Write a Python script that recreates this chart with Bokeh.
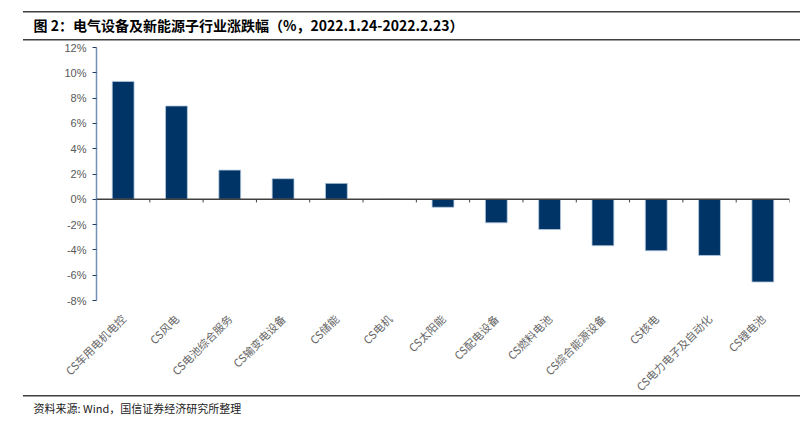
import math
from bokeh.plotting import figure
from bokeh.models import (FactorRange, Range1d, Span, FixedTicker, PrintfTickFormatter,
                          ColumnDataSource, Title)
from bokeh.embed import file_html
from bokeh.resources import INLINE

# ---- data ----
title_text = "图 2：电气设备及新能源子行业涨跌幅（%，2022.1.24-2022.2.23）"
source_text = "资料来源: Wind，国信证券经济研究所整理"
categories = ["CS车用电机电控", "CS风电", "CS电池综合服务", "CS输变电设备", "CS储能", "CS电机",
              "CS太阳能", "CS配电设备", "CS燃料电池", "CS综合能源设备", "CS核电",
              "CS电力电子及自动化", "CS锂电池"]
changes = [9.32, 7.38, 2.31, 1.63, 1.26, 0.0, -0.63, -1.86, -2.39, -3.67, -4.07, -4.44, -6.54]
y_ticks = [-8, -6, -4, -2, 0, 2, 4, 6, 8, 10, 12]

BAR = "#003366"
RULE = "#404040"
CJK = "Noto Sans CJK SC"

W, H = 800, 436
L, R, T, B = 96, 11, 46, 136

p = figure(
    width=W, height=H,
    x_range=FactorRange(*categories, range_padding=0, factor_padding=0),
    y_range=Range1d(-8, 12),
    output_backend="svg", toolbar_location=None,
    min_border_left=L, min_border_right=R, min_border_top=T, min_border_bottom=B,
)
p.outline_line_color = None
p.xgrid.grid_line_color = None
p.ygrid.grid_line_color = None
p.background_fill_color = "white"
p.border_fill_color = None  # transparent border area, so the page rules below show

# page rules (header top/bottom, footer top) as CSS backgrounds of the figure element
rule_css = ", ".join(
    f"linear-gradient({RULE}, {RULE}) 23px {y}px / 777px 1.5px no-repeat"
    for y in (10.5, 38.5, 395)
)
p.styles = {"background": rule_css + ", #ffffff"}

src = ColumnDataSource(dict(x=categories, top=changes))
p.vbar(x="x", top="top", bottom=0, width=0.41, source=src,
       fill_color=BAR, line_color="#b8cbe0", line_width=0.8)

# zero line and category-boundary ticks
p.add_layout(Span(location=0, dimension="width", line_color="#404040", line_width=1.5))
bounds = list(range(len(categories) + 1))
p.segment(x0=bounds, x1=bounds, y0=[0] * len(bounds), y1=[-0.25] * len(bounds),
          line_color="#404040", line_width=1)

# y axis
ya = p.yaxis[0]
ya.ticker = FixedTicker(ticks=y_ticks)
ya.formatter = PrintfTickFormatter(format="%d%%")
ya.axis_line_color = "#7390b6"
ya.axis_line_width = 1.5
ya.major_tick_line_color = "#1f3f66"
ya.major_tick_out = 4
ya.major_tick_in = 0
ya.minor_tick_line_color = None
ya.major_label_text_font = "Liberation Sans"
ya.major_label_text_font_size = "11px"
ya.major_label_text_color = "#595959"
ya.major_label_standoff = 6

# x axis
xa = p.xaxis[0]
xa.axis_line_color = None
xa.major_tick_line_color = None
xa.minor_tick_line_color = None
xa.major_label_orientation = math.pi / 4
xa.major_label_text_font = CJK
xa.major_label_text_font_size = "11px"
xa.major_label_text_color = "#666666"
xa.major_label_standoff = 10

p.add_layout(Title(text=title_text, align="left", offset=33 - L, standoff=25,
                   text_font=CJK, text_font_style="bold", text_font_size="14px",
                   text_color="#000000"), "above")
foot = Title(text=source_text, align="left", offset=33 - L, standoff=0,
             text_font=CJK, text_font_style="normal", text_font_size="11px",
             text_color="#222222")
try:
    foot.standoff = -10
except Exception:
    pass
p.add_layout(foot, "below")

open("out.html", "w").write(file_html(p, INLINE))
